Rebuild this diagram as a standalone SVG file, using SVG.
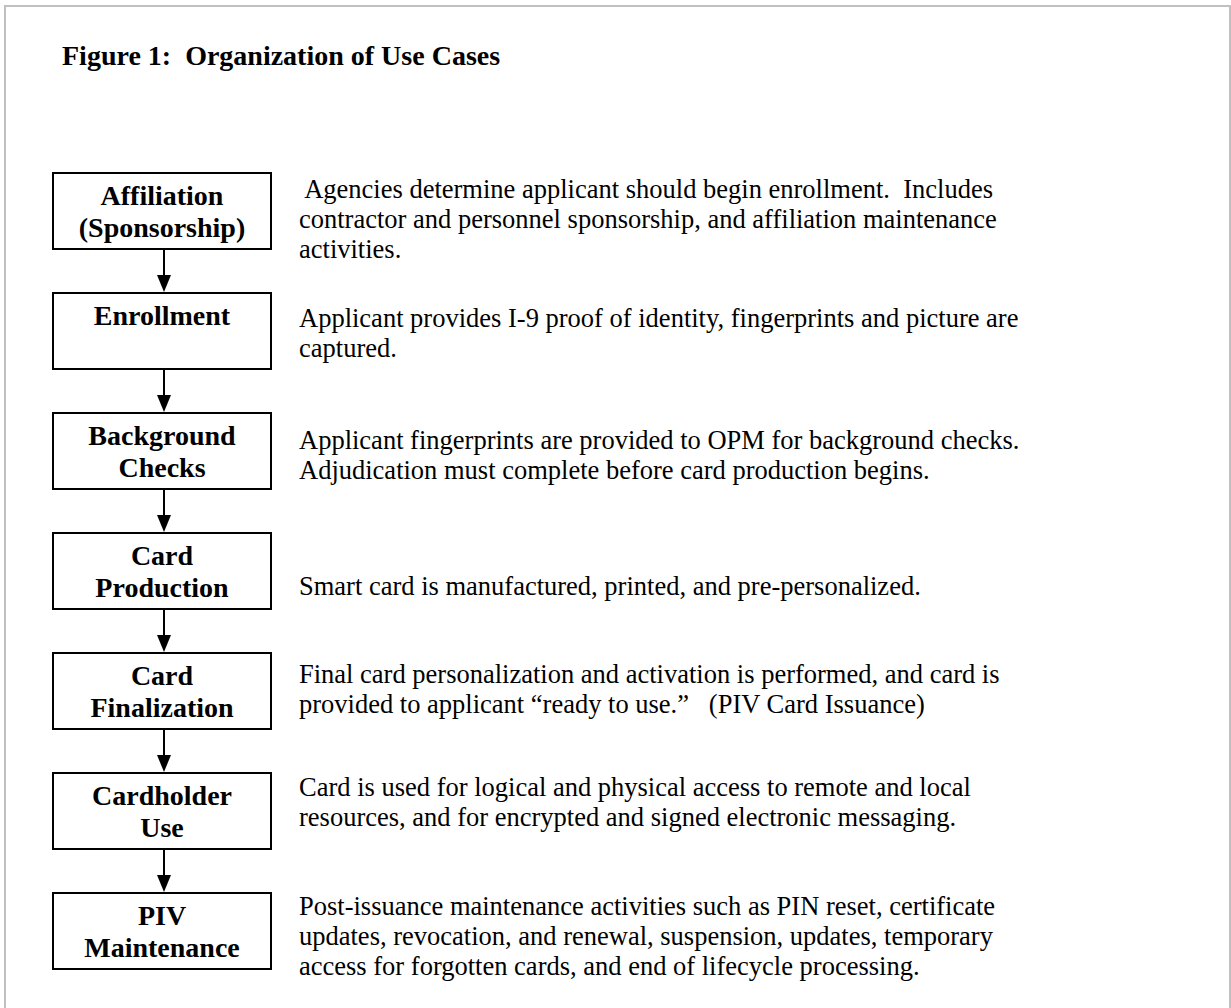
<svg xmlns="http://www.w3.org/2000/svg" width="1231" height="1008" viewBox="0 0 1231 1008">
<defs>
<style>
.frame{fill:none;stroke:#c0c0c0;stroke-width:2}
.box{fill:#fff;stroke:#000;stroke-width:2}
.bt{font-family:"Liberation Serif","Times New Roman",serif;font-weight:bold;font-size:28px;text-anchor:middle;fill:#000}
.dt{font-family:"Liberation Serif","Times New Roman",serif;font-size:26.5px;fill:#000}
.title{font-family:"Liberation Serif","Times New Roman",serif;font-weight:bold;font-size:28px;fill:#000}
.conn{stroke:#000;stroke-width:2;fill:none}
.head{fill:#000}
</style>
</defs>
<rect width="1231" height="1008" fill="#fff"/>
<rect class="frame" x="5" y="6" width="1225" height="1100"/>
<text class="title" x="62" y="65" xml:space="preserve">Figure 1:  Organization of Use Cases</text>

<g id="connectors">
<path class="conn" d="M164,249 V275"/><path class="head" d="M157,275 L171,275 L164,292 Z"/>
<path class="conn" d="M164,369 V395"/><path class="head" d="M157,395 L171,395 L164,412 Z"/>
<path class="conn" d="M164,489 V515"/><path class="head" d="M157,515 L171,515 L164,532 Z"/>
<path class="conn" d="M164,609 V635"/><path class="head" d="M157,635 L171,635 L164,652 Z"/>
<path class="conn" d="M164,729 V755"/><path class="head" d="M157,755 L171,755 L164,772 Z"/>
<path class="conn" d="M164,849 V875"/><path class="head" d="M157,875 L171,875 L164,892 Z"/>
</g>

<g id="affiliation">
<rect class="box" x="53" y="173" width="218" height="76"/>
<text class="bt" x="162" y="205">Affiliation</text>
<text class="bt" x="162" y="237">(Sponsorship)</text>
<text class="dt" x="299" y="198" xml:space="preserve"> Agencies determine applicant should begin enrollment.  Includes</text>
<text class="dt" x="299" y="228">contractor and personnel sponsorship, and affiliation maintenance</text>
<text class="dt" x="299" y="258">activities.</text>
</g>

<g id="enrollment">
<rect class="box" x="53" y="293" width="218" height="76"/>
<text class="bt" x="162" y="325">Enrollment</text>
<text class="dt" x="299" y="327">Applicant provides I-9 proof of identity, fingerprints and picture are</text>
<text class="dt" x="299" y="357">captured.</text>
</g>

<g id="background-checks">
<rect class="box" x="53" y="413" width="218" height="76"/>
<text class="bt" x="162" y="445">Background</text>
<text class="bt" x="162" y="477">Checks</text>
<text class="dt" x="299" y="449">Applicant fingerprints are provided to OPM for background checks.</text>
<text class="dt" x="299" y="479">Adjudication must complete before card production begins.</text>
</g>

<g id="card-production">
<rect class="box" x="53" y="533" width="218" height="76"/>
<text class="bt" x="162" y="565">Card</text>
<text class="bt" x="162" y="597">Production</text>
<text class="dt" x="299" y="595">Smart card is manufactured, printed, and pre-personalized.</text>
</g>

<g id="card-finalization">
<rect class="box" x="53" y="653" width="218" height="76"/>
<text class="bt" x="162" y="685">Card</text>
<text class="bt" x="162" y="717">Finalization</text>
<text class="dt" x="299" y="683">Final card personalization and activation is performed, and card is</text>
<text class="dt" x="299" y="713" xml:space="preserve">provided to applicant “ready to use.”   (PIV Card Issuance)</text>
</g>

<g id="cardholder-use">
<rect class="box" x="53" y="773" width="218" height="76"/>
<text class="bt" x="162" y="805">Cardholder</text>
<text class="bt" x="162" y="837">Use</text>
<text class="dt" x="299" y="796">Card is used for logical and physical access to remote and local</text>
<text class="dt" x="299" y="826">resources, and for encrypted and signed electronic messaging.</text>
</g>

<g id="piv-maintenance">
<rect class="box" x="53" y="893" width="218" height="76"/>
<text class="bt" x="162" y="925">PIV</text>
<text class="bt" x="162" y="957">Maintenance</text>
<text class="dt" x="299" y="915">Post-issuance maintenance activities such as PIN reset, certificate</text>
<text class="dt" x="299" y="945">updates, revocation, and renewal, suspension, updates, temporary</text>
<text class="dt" x="299" y="975">access for forgotten cards, and end of lifecycle processing.</text>
</g>
</svg>
